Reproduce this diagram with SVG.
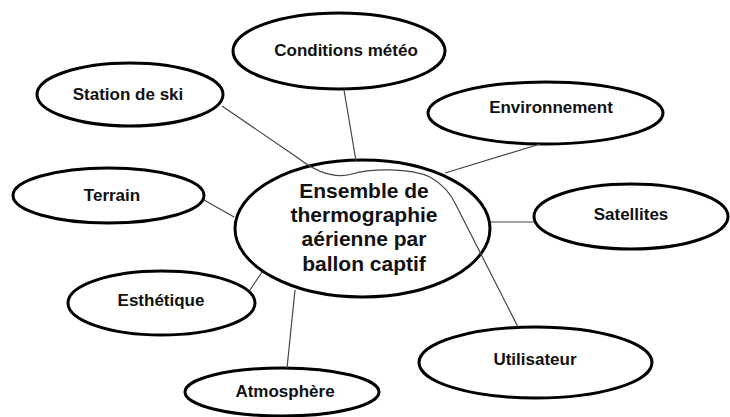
<svg xmlns="http://www.w3.org/2000/svg" width="730" height="417" viewBox="0 0 730 417">
<style>
.n{fill:#fff;stroke:#000;stroke-width:3}
.t{font-family:"Liberation Sans",Arial,sans-serif;font-weight:bold;font-size:17px;fill:#111;text-anchor:middle}
.c{font-size:21px}
.l{fill:none;stroke:#444;stroke-width:1.2}
</style>
<rect width="730" height="417" fill="#fff"/>
<g id="center"><ellipse class="n" cx="362.5" cy="228.5" rx="127.5" ry="68.5"/>
<text class="t c" x="364" y="198">Ensemble de</text>
<text class="t c" x="364" y="222">thermographie</text>
<text class="t c" x="364" y="246">aérienne par</text>
<text class="t c" x="364" y="271">ballon captif</text></g>
<g id="conditions"><ellipse class="n" cx="339" cy="51" rx="106" ry="38"/><text class="t" x="346" y="56">Conditions météo</text></g>
<g id="station"><ellipse class="n" cx="130" cy="94.5" rx="93" ry="31.5"/><text class="t" x="128" y="100">Station de ski</text></g>
<g id="environnement"><ellipse class="n" cx="545.5" cy="113" rx="117.5" ry="31"/><text class="t" x="551" y="113">Environnement</text></g>
<g id="terrain"><ellipse class="n" cx="108.5" cy="195.5" rx="95.5" ry="27.5"/><text class="t" x="112" y="201">Terrain</text></g>
<g id="satellites"><ellipse class="n" cx="631" cy="216.5" rx="97" ry="32.5"/><text class="t" x="631" y="220">Satellites</text></g>
<g id="esthetique"><ellipse class="n" cx="161.5" cy="303" rx="93.5" ry="32"/><text class="t" x="161" y="306">Esthétique</text></g>
<g id="utilisateur"><ellipse class="n" cx="535.5" cy="362.5" rx="116.5" ry="35.5"/><text class="t" x="535" y="365">Utilisateur</text></g>
<g id="atmosphere"><ellipse class="n" cx="282" cy="392" rx="97" ry="24"/><text class="t" x="285" y="397">Atmosphère</text></g>
<g id="connectors">
<line class="l" x1="344" y1="90" x2="356" y2="161"/>
<line class="l" x1="540" y1="144" x2="445" y2="173"/>
<line class="l" x1="490" y1="222" x2="534" y2="222"/>
<line class="l" x1="204" y1="200" x2="234" y2="217"/>
<line class="l" x1="262" y1="272" x2="250" y2="290"/>
<line class="l" x1="295" y1="290" x2="287" y2="368"/>
<path class="l" d="M222,106 L298,158 C316,172 334,179 352,174 C372,168 410,168 430,177 C444,185 451,194 456,205 L518,327"/>
</g>
</svg>
